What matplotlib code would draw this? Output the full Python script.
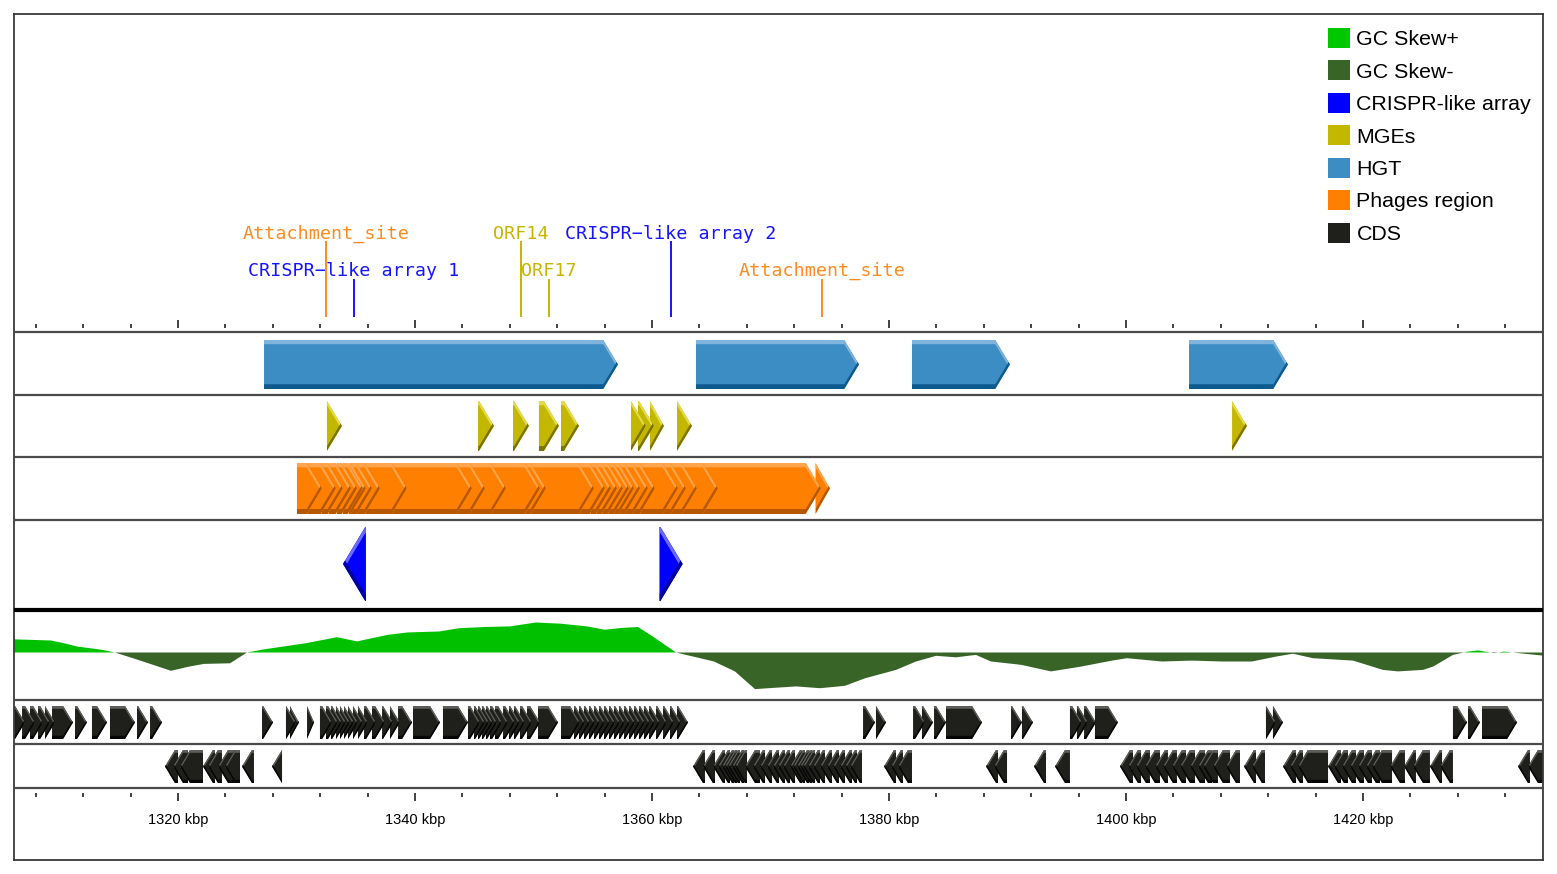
import matplotlib
matplotlib.use('Agg')
import numpy as np
import matplotlib.pyplot as plt
from matplotlib.patches import Polygon, Patch
from matplotlib.ticker import FixedLocator, FuncFormatter

# ---------------- data (positions in kbp) ----------------
hgt = [(1327.26, 1357.13), (1363.71, 1377.47), (1381.94, 1390.21), (1405.32, 1413.67)]

mges = [(1332.57, 1333.84), (1345.32, 1346.67), (1348.27, 1349.62), (1350.46, 1352.15),
        (1352.32, 1353.84), (1358.23, 1359.49), (1358.82, 1360.17), (1359.83, 1361.01),
        (1362.11, 1363.38), (1408.95, 1410.21)]

phage_start = [1330.04, 1330.04, 1330.90, 1332.10, 1332.70, 1333.40, 1333.90, 1334.40,
               1334.60, 1335.10, 1335.80, 1338.00, 1343.50, 1344.60, 1346.40, 1349.30,
               1349.80, 1353.80, 1354.80, 1355.30, 1355.80, 1356.30, 1356.80, 1357.20,
               1357.70, 1358.40, 1359.00, 1360.90, 1361.60, 1362.50, 1364.30, 1373.80]
phage_end = [1331.31, 1332.15, 1333.33, 1333.92, 1334.60, 1335.11, 1335.61, 1335.86,
             1336.37, 1337.05, 1339.32, 1344.81, 1345.91, 1347.68, 1350.55, 1351.05,
             1355.11, 1356.03, 1356.54, 1357.05, 1357.55, 1358.06, 1358.48, 1358.99,
             1359.66, 1360.25, 1362.19, 1362.87, 1363.80, 1365.57, 1374.26, 1375.02]

crispr_fwd = [(1360.63, 1362.59)]
crispr_rev = [(1333.92, 1335.86)]

cds_plus = [
    (1305.82, 1307.09), (1306.84, 1307.93), (1307.51, 1308.61), (1308.19, 1309.20),
    (1308.78, 1309.62), (1309.37, 1311.14), (1311.31, 1312.32), (1312.74, 1314.01),
    (1314.26, 1316.37), (1316.54, 1317.47), (1317.64, 1318.65),
    (1327.09, 1328.02), (1329.11, 1329.96), (1329.45, 1330.21), (1330.89, 1331.48),
    (1331.98, 1333.00), (1332.49, 1333.50), (1332.91, 1333.84), (1333.33, 1334.18),
    (1333.67, 1334.51), (1334.01, 1334.85), (1334.35, 1335.19), (1334.77, 1335.61),
    (1335.19, 1336.03), (1335.70, 1336.71), (1336.37, 1337.47), (1337.22, 1338.14),
    (1337.89, 1338.73), (1338.57, 1339.75), (1339.83, 1342.11), (1342.36, 1344.47),
    (1344.47, 1345.49), (1344.98, 1345.91), (1345.32, 1346.24), (1345.65, 1346.58),
    (1345.99, 1346.92), (1346.33, 1347.34), (1346.75, 1347.85), (1347.43, 1348.44),
    (1347.93, 1348.86), (1348.35, 1349.28), (1348.86, 1349.87), (1349.45, 1350.55),
    (1350.38, 1352.07), (1352.32, 1353.92),
    (1353.42, 1354.35), (1353.84, 1354.77), (1354.26, 1355.19), (1354.68, 1355.61),
    (1355.11, 1356.03), (1355.53, 1356.46), (1355.95, 1356.88), (1356.37, 1357.30),
    (1356.79, 1357.72), (1357.22, 1358.14), (1357.64, 1358.57), (1358.06, 1358.99),
    (1358.48, 1359.41), (1358.90, 1359.83), (1359.32, 1360.25), (1359.75, 1360.68),
    (1360.34, 1361.27), (1360.93, 1361.86), (1361.52, 1362.45), (1362.11, 1363.04),
    (1377.81, 1378.82), (1378.90, 1379.75), (1382.03, 1383.04), (1382.78, 1383.71),
    (1383.80, 1384.81), (1384.81, 1387.85), (1390.30, 1391.22), (1391.22, 1392.15),
    (1395.27, 1396.29), (1395.86, 1396.79), (1396.46, 1397.47), (1397.38, 1399.32),
    (1411.81, 1412.66), (1412.40, 1413.25), (1427.59, 1428.78), (1428.86, 1429.87),
    (1430.04, 1433.00)]

cds_minus = [
    (1318.90, 1320.00), (1319.58, 1320.84), (1320.17, 1322.11), (1322.11, 1323.12),
    (1322.53, 1323.71), (1323.38, 1325.23), (1323.97, 1325.23), (1325.40, 1326.41),
    (1327.93, 1328.78),
    (1363.46, 1364.47), (1364.30, 1365.32), (1365.15, 1366.16), (1365.57, 1366.58),
    (1365.91, 1366.92), (1366.16, 1367.17), (1366.41, 1367.43), (1366.75, 1367.76),
    (1367.00, 1368.02), (1367.85, 1369.11), (1368.52, 1369.54), (1369.11, 1370.13),
    (1369.70, 1370.72), (1370.21, 1371.22), (1370.63, 1371.65), (1371.05, 1372.07),
    (1371.65, 1372.66), (1371.90, 1372.91), (1372.24, 1373.25), (1372.49, 1373.50),
    (1372.74, 1373.76), (1373.16, 1374.18), (1373.59, 1374.60), (1374.18, 1375.19),
    (1374.77, 1375.78), (1375.27, 1376.29), (1375.86, 1376.88), (1376.29, 1377.30),
    (1376.71, 1377.72),
    (1379.58, 1380.59), (1380.17, 1381.18), (1380.76, 1381.94),
    (1388.19, 1389.20), (1388.86, 1389.96), (1392.24, 1393.25), (1394.01, 1395.27),
    (1399.49, 1400.59), (1400.17, 1401.27), (1400.84, 1402.02), (1401.60, 1402.87),
    (1402.45, 1403.54), (1403.12, 1404.30), (1403.88, 1405.06), (1404.56, 1405.82),
    (1405.40, 1406.67), (1406.08, 1407.26), (1406.50, 1407.76), (1407.34, 1408.78),
    (1408.44, 1409.62), (1409.96, 1410.97), (1410.63, 1411.73),
    (1413.25, 1414.35), (1413.84, 1414.94), (1414.51, 1417.05), (1417.05, 1418.14),
    (1417.55, 1418.73), (1418.23, 1419.41), (1418.90, 1420.08), (1419.58, 1420.76),
    (1420.25, 1421.43), (1420.76, 1422.45), (1422.28, 1423.54), (1423.46, 1424.47),
    (1424.22, 1425.65), (1425.65, 1426.67), (1426.50, 1427.59),
    (1433.08, 1434.09), (1433.92, 1435.36)]

gc_pos = [1306.08, 1309.28, 1310.38, 1311.48, 1313.59, 1314.68, 1316.20, 1317.89, 1319.41,
          1320.93, 1322.19, 1324.39, 1325.82, 1327.34, 1330.80, 1333.42, 1335.11, 1337.72,
          1339.41, 1342.03, 1343.71, 1345.91, 1348.02, 1350.21, 1352.32, 1354.51, 1356.03,
          1357.47, 1358.82, 1360.08, 1362.03, 1365.23, 1367.00, 1368.69, 1372.15, 1374.18,
          1376.29, 1377.97, 1380.59, 1382.28, 1383.97, 1385.65, 1387.34, 1388.61, 1391.14,
          1393.67, 1396.20, 1398.82, 1400.08, 1403.04, 1405.57, 1408.10, 1410.63, 1412.74,
          1414.09, 1415.78, 1417.89, 1419.16, 1421.69, 1422.95, 1425.06, 1425.91, 1427.59,
          1428.86, 1429.70, 1431.05, 1431.90, 1433.59, 1435.36]
gc_skew = [0.044, 0.040, 0.031, 0.020, 0.009, 0.000, -0.019, -0.041, -0.061,
           -0.047, -0.038, -0.036, 0.000, 0.011, 0.031, 0.051, 0.037, 0.059,
           0.067, 0.070, 0.081, 0.085, 0.087, 0.100, 0.096, 0.087, 0.076,
           0.082, 0.085, 0.053, 0.000, -0.030, -0.063, -0.122, -0.113, -0.119,
           -0.111, -0.086, -0.058, -0.030, -0.011, -0.016, -0.008, -0.030, -0.041,
           -0.063, -0.047, -0.027, -0.019, -0.030, -0.027, -0.030, -0.030, -0.013,
           -0.004, -0.019, -0.024, -0.027, -0.058, -0.063, -0.058, -0.047, -0.008,
           0.003, 0.007, -0.002, 0.003, -0.004, -0.011]

annot_labels = ['Attachment_site', 'CRISPR\u2212like array 1', 'ORF14', 'ORF17',
                'CRISPR\u2212like array 2', 'Attachment_site']
annot_pos = [1332.49, 1334.85, 1348.95, 1351.31, 1361.60, 1374.35]
annot_row = [0, 1, 0, 1, 0, 1]
annot_colors = ['#ff8a1e', '#1414ff', '#c8b400', '#c8b400', '#1414ff', '#ff8a1e']

major_ticks = [1320, 1340, 1360, 1380, 1400, 1420]
minor_ticks = [1308, 1312, 1316, 1324, 1328, 1332, 1336, 1344, 1348, 1352, 1356,
               1364, 1368, 1372, 1376, 1384, 1388, 1392, 1396, 1404, 1408, 1412,
               1416, 1424, 1428, 1432]

legend_labels = ['GC Skew+', 'GC Skew-', 'CRISPR-like array', 'MGEs', 'HGT',
                 'Phages region', 'CDS']
legend_colors = ['#00c800', '#386428', '#0000ff', '#c4b700', '#3d8dc5', '#ff7f00', '#1f201b']

# ---------------- layout (pixel rows / columns) ----------------
W, H = 1557, 874
LEFT, RIGHT, TOP, BOTTOM = 14, 1543, 14, 860
PX_PER_KBP = 11.85
REF_KBP, REF_PX = 1320, 178
HEAD_FRAC = 0.3
BAND_FRAC = 0.085

# body, light top band, dark bottom band
STYLE_HGT = ('#3d8dc5', '#80b4dc', '#0c5a8e')
STYLE_MGE = ('#c4b700', '#e4da4a', '#7b7300')
STYLE_PHAGE = ('#ff7f00', '#ffa54e', '#b65800')
STYLE_CRISPR = ('#0000ff', '#6a6aff', '#0000a0')
STYLE_CDS = ('#1f201b', '#5e5f5a', '#050505')

fig = plt.figure(figsize=(W / 100, H / 100), dpi=100)
ax = fig.add_axes([LEFT / W, 1 - BOTTOM / H, (RIGHT - LEFT) / W, (BOTTOM - TOP) / H])
ax.set_xlim(REF_KBP + (LEFT - REF_PX) / PX_PER_KBP, REF_KBP + (RIGHT - REF_PX) / PX_PER_KBP)
ax.set_ylim(BOTTOM, TOP)
ax.set_xticks([])
ax.set_yticks([])
for sp in ax.spines.values():
    sp.set_color('#3a3a3a')
    sp.set_linewidth(1.3)


def row_frac(row):
    return (BOTTOM - row) / (BOTTOM - TOP)


def draw_arrow(start, end, strand, top, bottom, style, z):
    body, light, dark = style
    height = bottom - top
    head = min(HEAD_FRAC * height / PX_PER_KBP, end - start)
    mid = (top + bottom) / 2
    band = BAND_FRAC * height
    if strand > 0:
        base, tip, tail = end - head, end, start
    else:
        base, tip, tail = start + head, start, end
    pts = [(tail, top), (base, top), (tip, mid), (base, bottom), (tail, bottom)]
    poly = Polygon(pts, closed=True, facecolor=body, edgecolor='none', zorder=z)
    ax.add_patch(poly)
    top_edge = [(tail, top), (base, top), (tip, mid)]
    bot_edge = [(tail, bottom), (base, bottom), (tip, mid)]
    for edge, col, shift in [(top_edge, light, band), (bot_edge, dark, -band * 1.15)]:
        shifted = [(x, y + shift) for x, y in edge[::-1]]
        bp = Polygon(edge + shifted, closed=True, facecolor=col, edgecolor='none', zorder=z)
        ax.add_patch(bp)
        bp.set_clip_path(poly)


def draw_genes(pairs, strand, top, bottom, style, z0):
    order = sorted(pairs, key=lambda p: p[0], reverse=(strand > 0))
    for i, (s, e) in enumerate(order):
        draw_arrow(s, e, strand, top, bottom, style, z0 + i * 0.001)


draw_genes(hgt, 1, 340, 389, STYLE_HGT, 2)
draw_genes(mges, 1, 401, 451, STYLE_MGE, 2)
draw_genes(list(zip(phage_start, phage_end)), 1, 463, 514, STYLE_PHAGE, 2)
draw_genes(crispr_fwd, 1, 527, 601, STYLE_CRISPR, 2)
draw_genes(crispr_rev, -1, 527, 601, STYLE_CRISPR, 2)
draw_genes(cds_plus, 1, 706, 739, STYLE_CDS, 2)
draw_genes(cds_minus, -1, 750, 783, STYLE_CDS, 2)

# GC skew
SKEW_BASE, SKEW_SCALE = 652.5, 300
gx = np.array(gc_pos)
gy = np.array(gc_skew)
ax.fill_between(gx, SKEW_BASE, SKEW_BASE - gy * SKEW_SCALE, where=gy >= 0,
                interpolate=True, color='#00c000', lw=0, zorder=2)
ax.fill_between(gx, SKEW_BASE, SKEW_BASE - gy * SKEW_SCALE, where=gy <= 0,
                interpolate=True, color='#386428', lw=0, zorder=2)

# track separators
for row in [332, 395, 457, 520, 700, 744, 788]:
    ax.axhline(row, color='#4a4a4a', lw=1.6, zorder=5)
ax.axhline(610, color='black', lw=3.0, zorder=5)

# annotations
ROW_TEXT = [234, 271]
ROW_LINE = [241, 279]
for lab, pos, r, col in zip(annot_labels, annot_pos, annot_row, annot_colors):
    ax.vlines(pos, ROW_LINE[r], 317, color=col, lw=1.4, zorder=4)
    ax.text(pos, ROW_TEXT[r], lab, color=col, ha='center', va='center',
            fontsize=13.2, family='DejaVu Sans Mono', zorder=6)

# rulers
kbp_fmt = FuncFormatter(lambda v, p: f'{v:.0f} kbp')
top_ruler = ax.secondary_xaxis(row_frac(328.5))
bot_ruler = ax.secondary_xaxis(row_frac(792.5))
for rl in (top_ruler, bot_ruler):
    for sp in rl.spines.values():
        sp.set_visible(False)
    rl.xaxis.set_major_locator(FixedLocator(major_ticks))
    rl.xaxis.set_minor_locator(FixedLocator(minor_ticks))
    rl.tick_params(which='major', length=5.5, width=1.2, color='#222222')
    rl.tick_params(which='minor', length=3.0, width=1.2, color='#222222')
top_ruler.tick_params(labeltop=False, labelbottom=False)
bot_ruler.xaxis.set_major_formatter(kbp_fmt)
bot_ruler.tick_params(which='major', pad=9.5, labelsize=10.5)
for t in bot_ruler.get_xticklabels():
    t.set_family(['Liberation Sans', 'DejaVu Sans'])

# legend
handles = [Patch(facecolor=c, edgecolor='none') for c in legend_colors]
leg = ax.legend(handles, legend_labels, loc='upper left',
                bbox_to_anchor=((1328 - LEFT) / (RIGHT - LEFT), row_frac(28)),
                frameon=False, borderpad=0, borderaxespad=0, handlelength=1.05,
                handleheight=1.05, handletextpad=0.28, labelspacing=0.525,
                prop={'family': ['Liberation Sans', 'DejaVu Sans'], 'size': 15.4})
leg.set_zorder(10)

fig.savefig('out.png', dpi=100)
